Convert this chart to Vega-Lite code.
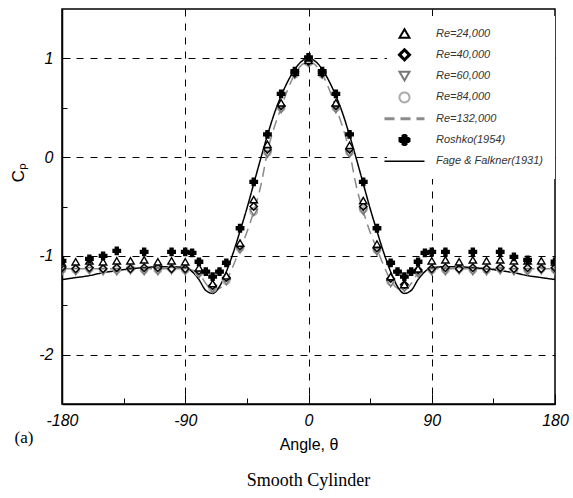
{
  "$schema": "https://vega.github.io/schema/vega-lite/v6.json",
  "autosize": {"type": "none"},
  "width": 493,
  "height": 395,
  "padding": {"left": 62, "top": 9, "right": 18, "bottom": 94},
  "background": "white",
  "config": {
    "view": {"stroke": "#000000", "strokeWidth": 1.5},
    "font": "Liberation Sans",
    "legend": {"padding": 12}
  },
  "title": {
    "text": "Smooth Cylinder",
    "orient": "bottom",
    "anchor": "middle",
    "font": "Liberation Serif",
    "fontSize": 18,
    "fontWeight": "normal",
    "color": "#000000",
    "offset": 20
  },
  "datasets": {
    "pts": [
      {"s":"Re=84,000","t":-180,"cp":-1.14},{"s":"Re=84,000","t":-170,"cp":-1.14},{"s":"Re=84,000","t":-160,"cp":-1.13},{"s":"Re=84,000","t":-150,"cp":-1.14},{"s":"Re=84,000","t":-140,"cp":-1.14},{"s":"Re=84,000","t":-130,"cp":-1.13},{"s":"Re=84,000","t":-120,"cp":-1.14},{"s":"Re=84,000","t":-110,"cp":-1.14},{"s":"Re=84,000","t":-100,"cp":-1.13},{"s":"Re=84,000","t":-90,"cp":-1.14},{"s":"Re=84,000","t":-80,"cp":-1.17},{"s":"Re=84,000","t":-70,"cp":-1.33},{"s":"Re=84,000","t":-60,"cp":-1.25},{"s":"Re=84,000","t":-50,"cp":-0.92},{"s":"Re=84,000","t":-40,"cp":-0.55},{"s":"Re=84,000","t":-30,"cp":0.05},{"s":"Re=84,000","t":-20,"cp":0.5},{"s":"Re=84,000","t":-10,"cp":0.84},{"s":"Re=84,000","t":0,"cp":0.96},{"s":"Re=84,000","t":10,"cp":0.84},{"s":"Re=84,000","t":20,"cp":0.5},{"s":"Re=84,000","t":30,"cp":0.05},{"s":"Re=84,000","t":40,"cp":-0.53},{"s":"Re=84,000","t":50,"cp":-0.94},{"s":"Re=84,000","t":60,"cp":-1.26},{"s":"Re=84,000","t":70,"cp":-1.31},{"s":"Re=84,000","t":80,"cp":-1.16},{"s":"Re=84,000","t":90,"cp":-1.14},{"s":"Re=84,000","t":100,"cp":-1.14},{"s":"Re=84,000","t":110,"cp":-1.13},{"s":"Re=84,000","t":120,"cp":-1.14},{"s":"Re=84,000","t":130,"cp":-1.14},{"s":"Re=84,000","t":140,"cp":-1.13},{"s":"Re=84,000","t":150,"cp":-1.14},{"s":"Re=84,000","t":160,"cp":-1.14},{"s":"Re=84,000","t":170,"cp":-1.13},{"s":"Re=84,000","t":180,"cp":-1.14},
      {"s":"Re=60,000","t":-180,"cp":-1.16},{"s":"Re=60,000","t":-170,"cp":-1.16},{"s":"Re=60,000","t":-160,"cp":-1.15},{"s":"Re=60,000","t":-150,"cp":-1.16},{"s":"Re=60,000","t":-140,"cp":-1.16},{"s":"Re=60,000","t":-130,"cp":-1.15},{"s":"Re=60,000","t":-120,"cp":-1.16},{"s":"Re=60,000","t":-110,"cp":-1.16},{"s":"Re=60,000","t":-100,"cp":-1.15},{"s":"Re=60,000","t":-90,"cp":-1.16},{"s":"Re=60,000","t":-80,"cp":-1.19},{"s":"Re=60,000","t":-70,"cp":-1.34},{"s":"Re=60,000","t":-60,"cp":-1.26},{"s":"Re=60,000","t":-50,"cp":-0.94},{"s":"Re=60,000","t":-40,"cp":-0.56},{"s":"Re=60,000","t":-30,"cp":0.03},{"s":"Re=60,000","t":-20,"cp":0.48},{"s":"Re=60,000","t":-10,"cp":0.83},{"s":"Re=60,000","t":0,"cp":0.95},{"s":"Re=60,000","t":10,"cp":0.83},{"s":"Re=60,000","t":20,"cp":0.48},{"s":"Re=60,000","t":30,"cp":0.03},{"s":"Re=60,000","t":40,"cp":-0.55},{"s":"Re=60,000","t":50,"cp":-0.96},{"s":"Re=60,000","t":60,"cp":-1.28},{"s":"Re=60,000","t":70,"cp":-1.33},{"s":"Re=60,000","t":80,"cp":-1.18},{"s":"Re=60,000","t":90,"cp":-1.16},{"s":"Re=60,000","t":100,"cp":-1.16},{"s":"Re=60,000","t":110,"cp":-1.15},{"s":"Re=60,000","t":120,"cp":-1.16},{"s":"Re=60,000","t":130,"cp":-1.16},{"s":"Re=60,000","t":140,"cp":-1.15},{"s":"Re=60,000","t":150,"cp":-1.16},{"s":"Re=60,000","t":160,"cp":-1.16},{"s":"Re=60,000","t":170,"cp":-1.15},{"s":"Re=60,000","t":180,"cp":-1.16},
      {"s":"Re=40,000","t":-180,"cp":-1.12},{"s":"Re=40,000","t":-170,"cp":-1.13},{"s":"Re=40,000","t":-160,"cp":-1.12},{"s":"Re=40,000","t":-150,"cp":-1.13},{"s":"Re=40,000","t":-140,"cp":-1.12},{"s":"Re=40,000","t":-130,"cp":-1.13},{"s":"Re=40,000","t":-120,"cp":-1.12},{"s":"Re=40,000","t":-110,"cp":-1.12},{"s":"Re=40,000","t":-100,"cp":-1.13},{"s":"Re=40,000","t":-90,"cp":-1.13},{"s":"Re=40,000","t":-80,"cp":-1.15},{"s":"Re=40,000","t":-70,"cp":-1.3},{"s":"Re=40,000","t":-60,"cp":-1.22},{"s":"Re=40,000","t":-50,"cp":-0.9},{"s":"Re=40,000","t":-40,"cp":-0.5},{"s":"Re=40,000","t":-30,"cp":0.08},{"s":"Re=40,000","t":-20,"cp":0.52},{"s":"Re=40,000","t":-10,"cp":0.85},{"s":"Re=40,000","t":0,"cp":0.97},{"s":"Re=40,000","t":10,"cp":0.85},{"s":"Re=40,000","t":20,"cp":0.52},{"s":"Re=40,000","t":30,"cp":0.08},{"s":"Re=40,000","t":40,"cp":-0.5},{"s":"Re=40,000","t":50,"cp":-0.92},{"s":"Re=40,000","t":60,"cp":-1.23},{"s":"Re=40,000","t":70,"cp":-1.29},{"s":"Re=40,000","t":80,"cp":-1.14},{"s":"Re=40,000","t":90,"cp":-1.13},{"s":"Re=40,000","t":100,"cp":-1.12},{"s":"Re=40,000","t":110,"cp":-1.13},{"s":"Re=40,000","t":120,"cp":-1.12},{"s":"Re=40,000","t":130,"cp":-1.13},{"s":"Re=40,000","t":140,"cp":-1.12},{"s":"Re=40,000","t":150,"cp":-1.13},{"s":"Re=40,000","t":160,"cp":-1.12},{"s":"Re=40,000","t":170,"cp":-1.13},{"s":"Re=40,000","t":180,"cp":-1.12},
      {"s":"Re=24,000","t":-180,"cp":-1.07},{"s":"Re=24,000","t":-170,"cp":-1.06},{"s":"Re=24,000","t":-160,"cp":-1.05},{"s":"Re=24,000","t":-150,"cp":-1.06},{"s":"Re=24,000","t":-140,"cp":-1.05},{"s":"Re=24,000","t":-130,"cp":-1.05},{"s":"Re=24,000","t":-120,"cp":-1.04},{"s":"Re=24,000","t":-110,"cp":-1.06},{"s":"Re=24,000","t":-100,"cp":-1.05},{"s":"Re=24,000","t":-90,"cp":-1.06},{"s":"Re=24,000","t":-80,"cp":-1.12},{"s":"Re=24,000","t":-70,"cp":-1.28},{"s":"Re=24,000","t":-60,"cp":-1.2},{"s":"Re=24,000","t":-50,"cp":-0.87},{"s":"Re=24,000","t":-40,"cp":-0.43},{"s":"Re=24,000","t":-30,"cp":0.13},{"s":"Re=24,000","t":-20,"cp":0.55},{"s":"Re=24,000","t":-10,"cp":0.86},{"s":"Re=24,000","t":0,"cp":0.98},{"s":"Re=24,000","t":10,"cp":0.86},{"s":"Re=24,000","t":20,"cp":0.55},{"s":"Re=24,000","t":30,"cp":0.12},{"s":"Re=24,000","t":40,"cp":-0.44},{"s":"Re=24,000","t":50,"cp":-0.88},{"s":"Re=24,000","t":60,"cp":-1.21},{"s":"Re=24,000","t":70,"cp":-1.29},{"s":"Re=24,000","t":80,"cp":-1.13},{"s":"Re=24,000","t":90,"cp":-1.05},{"s":"Re=24,000","t":100,"cp":-1.04},{"s":"Re=24,000","t":110,"cp":-1.06},{"s":"Re=24,000","t":120,"cp":-1.04},{"s":"Re=24,000","t":130,"cp":-1.05},{"s":"Re=24,000","t":140,"cp":-1.04},{"s":"Re=24,000","t":150,"cp":-1.05},{"s":"Re=24,000","t":160,"cp":-1.05},{"s":"Re=24,000","t":170,"cp":-1.05},{"s":"Re=24,000","t":180,"cp":-1.06},
      {"s":"Roshko(1954)","t":-180,"cp":-1.05},{"s":"Roshko(1954)","t":-160,"cp":-1.03},{"s":"Roshko(1954)","t":-150,"cp":-1.0},{"s":"Roshko(1954)","t":-140,"cp":-0.95},{"s":"Roshko(1954)","t":-120,"cp":-0.96},{"s":"Roshko(1954)","t":-100,"cp":-0.96},{"s":"Roshko(1954)","t":-90,"cp":-0.96},{"s":"Roshko(1954)","t":-85,"cp":-0.97},{"s":"Roshko(1954)","t":-80,"cp":-1.06},{"s":"Roshko(1954)","t":-75,"cp":-1.16},{"s":"Roshko(1954)","t":-70,"cp":-1.21},{"s":"Roshko(1954)","t":-65,"cp":-1.16},{"s":"Roshko(1954)","t":-60,"cp":-1.07},{"s":"Roshko(1954)","t":-50,"cp":-0.72},{"s":"Roshko(1954)","t":-40,"cp":-0.25},{"s":"Roshko(1954)","t":-30,"cp":0.23},{"s":"Roshko(1954)","t":-20,"cp":0.64},{"s":"Roshko(1954)","t":-10,"cp":0.87},{"s":"Roshko(1954)","t":0,"cp":1.01},{"s":"Roshko(1954)","t":10,"cp":0.87},{"s":"Roshko(1954)","t":20,"cp":0.64},{"s":"Roshko(1954)","t":30,"cp":0.23},{"s":"Roshko(1954)","t":40,"cp":-0.25},{"s":"Roshko(1954)","t":50,"cp":-0.72},{"s":"Roshko(1954)","t":60,"cp":-1.07},{"s":"Roshko(1954)","t":65,"cp":-1.16},{"s":"Roshko(1954)","t":70,"cp":-1.21},{"s":"Roshko(1954)","t":75,"cp":-1.16},{"s":"Roshko(1954)","t":80,"cp":-1.06},{"s":"Roshko(1954)","t":85,"cp":-0.97},{"s":"Roshko(1954)","t":90,"cp":-0.96},{"s":"Roshko(1954)","t":100,"cp":-0.96},{"s":"Roshko(1954)","t":120,"cp":-0.96},{"s":"Roshko(1954)","t":140,"cp":-0.96},{"s":"Roshko(1954)","t":150,"cp":-1.01},{"s":"Roshko(1954)","t":160,"cp":-1.04},{"s":"Roshko(1954)","t":180,"cp":-1.06}
    ],
    "lines": [
      {"s":"Re=132,000","t":-180,"cp":-1.13},{"s":"Re=132,000","t":-160,"cp":-1.13},{"s":"Re=132,000","t":-140,"cp":-1.13},{"s":"Re=132,000","t":-120,"cp":-1.13},{"s":"Re=132,000","t":-100,"cp":-1.13},{"s":"Re=132,000","t":-90,"cp":-1.13},{"s":"Re=132,000","t":-80,"cp":-1.18},{"s":"Re=132,000","t":-75,"cp":-1.28},{"s":"Re=132,000","t":-70,"cp":-1.35},{"s":"Re=132,000","t":-65,"cp":-1.33},{"s":"Re=132,000","t":-60,"cp":-1.25},{"s":"Re=132,000","t":-55,"cp":-1.1},{"s":"Re=132,000","t":-50,"cp":-0.93},{"s":"Re=132,000","t":-45,"cp":-0.76},{"s":"Re=132,000","t":-40,"cp":-0.55},{"s":"Re=132,000","t":-35,"cp":-0.3},{"s":"Re=132,000","t":-30,"cp":0.05},{"s":"Re=132,000","t":-20,"cp":0.5},{"s":"Re=132,000","t":-10,"cp":0.84},{"s":"Re=132,000","t":0,"cp":0.97},{"s":"Re=132,000","t":10,"cp":0.84},{"s":"Re=132,000","t":20,"cp":0.5},{"s":"Re=132,000","t":30,"cp":0.05},{"s":"Re=132,000","t":35,"cp":-0.3},{"s":"Re=132,000","t":40,"cp":-0.55},{"s":"Re=132,000","t":45,"cp":-0.76},{"s":"Re=132,000","t":50,"cp":-0.93},{"s":"Re=132,000","t":55,"cp":-1.1},{"s":"Re=132,000","t":60,"cp":-1.25},{"s":"Re=132,000","t":65,"cp":-1.33},{"s":"Re=132,000","t":70,"cp":-1.35},{"s":"Re=132,000","t":75,"cp":-1.28},{"s":"Re=132,000","t":80,"cp":-1.18},{"s":"Re=132,000","t":90,"cp":-1.13},{"s":"Re=132,000","t":100,"cp":-1.13},{"s":"Re=132,000","t":120,"cp":-1.13},{"s":"Re=132,000","t":140,"cp":-1.13},{"s":"Re=132,000","t":160,"cp":-1.13},{"s":"Re=132,000","t":180,"cp":-1.13},
      {"s":"Fage & Falkner(1931)","t":-180,"cp":-1.24},{"s":"Fage & Falkner(1931)","t":-170,"cp":-1.22},{"s":"Fage & Falkner(1931)","t":-160,"cp":-1.2},{"s":"Fage & Falkner(1931)","t":-150,"cp":-1.17},{"s":"Fage & Falkner(1931)","t":-140,"cp":-1.15},{"s":"Fage & Falkner(1931)","t":-130,"cp":-1.13},{"s":"Fage & Falkner(1931)","t":-120,"cp":-1.12},{"s":"Fage & Falkner(1931)","t":-110,"cp":-1.11},{"s":"Fage & Falkner(1931)","t":-100,"cp":-1.11},{"s":"Fage & Falkner(1931)","t":-90,"cp":-1.12},{"s":"Fage & Falkner(1931)","t":-85,"cp":-1.16},{"s":"Fage & Falkner(1931)","t":-80,"cp":-1.24},{"s":"Fage & Falkner(1931)","t":-75,"cp":-1.35},{"s":"Fage & Falkner(1931)","t":-70,"cp":-1.38},{"s":"Fage & Falkner(1931)","t":-65,"cp":-1.31},{"s":"Fage & Falkner(1931)","t":-60,"cp":-1.16},{"s":"Fage & Falkner(1931)","t":-55,"cp":-0.97},{"s":"Fage & Falkner(1931)","t":-50,"cp":-0.75},{"s":"Fage & Falkner(1931)","t":-45,"cp":-0.52},{"s":"Fage & Falkner(1931)","t":-40,"cp":-0.27},{"s":"Fage & Falkner(1931)","t":-35,"cp":-0.02},{"s":"Fage & Falkner(1931)","t":-30,"cp":0.22},{"s":"Fage & Falkner(1931)","t":-25,"cp":0.44},{"s":"Fage & Falkner(1931)","t":-20,"cp":0.62},{"s":"Fage & Falkner(1931)","t":-15,"cp":0.77},{"s":"Fage & Falkner(1931)","t":-10,"cp":0.89},{"s":"Fage & Falkner(1931)","t":-5,"cp":0.97},{"s":"Fage & Falkner(1931)","t":0,"cp":1.0},{"s":"Fage & Falkner(1931)","t":5,"cp":0.97},{"s":"Fage & Falkner(1931)","t":10,"cp":0.89},{"s":"Fage & Falkner(1931)","t":15,"cp":0.77},{"s":"Fage & Falkner(1931)","t":20,"cp":0.62},{"s":"Fage & Falkner(1931)","t":25,"cp":0.44},{"s":"Fage & Falkner(1931)","t":30,"cp":0.22},{"s":"Fage & Falkner(1931)","t":35,"cp":-0.02},{"s":"Fage & Falkner(1931)","t":40,"cp":-0.27},{"s":"Fage & Falkner(1931)","t":45,"cp":-0.52},{"s":"Fage & Falkner(1931)","t":50,"cp":-0.75},{"s":"Fage & Falkner(1931)","t":55,"cp":-0.97},{"s":"Fage & Falkner(1931)","t":60,"cp":-1.16},{"s":"Fage & Falkner(1931)","t":65,"cp":-1.31},{"s":"Fage & Falkner(1931)","t":70,"cp":-1.38},{"s":"Fage & Falkner(1931)","t":75,"cp":-1.35},{"s":"Fage & Falkner(1931)","t":80,"cp":-1.24},{"s":"Fage & Falkner(1931)","t":85,"cp":-1.16},{"s":"Fage & Falkner(1931)","t":90,"cp":-1.12},{"s":"Fage & Falkner(1931)","t":100,"cp":-1.11},{"s":"Fage & Falkner(1931)","t":110,"cp":-1.11},{"s":"Fage & Falkner(1931)","t":120,"cp":-1.12},{"s":"Fage & Falkner(1931)","t":130,"cp":-1.13},{"s":"Fage & Falkner(1931)","t":140,"cp":-1.15},{"s":"Fage & Falkner(1931)","t":150,"cp":-1.17},{"s":"Fage & Falkner(1931)","t":160,"cp":-1.2},{"s":"Fage & Falkner(1931)","t":170,"cp":-1.22},{"s":"Fage & Falkner(1931)","t":180,"cp":-1.24}
    ],
    "note": [{"label": "(a)"}]
  },
  "layer": [
    {
      "data": {"name": "lines"},
      "mark": {"type": "line", "interpolate": "monotone", "clip": true},
      "encoding": {
        "x": {
          "field": "t", "type": "quantitative",
          "scale": {"domain": [-180, 180], "nice": false, "zero": false},
          "axis": {
            "title": "Angle, θ",
            "values": [-180, -135, -90, -45, 0, 45, 90, 135, 180],
            "labelExpr": "datum.value % 90 === 0 ? '' + datum.value : ''",
            "labelFont": "Liberation Sans", "labelFontSize": 16, "labelFontStyle": "italic", "labelColor": "#000000",
            "labelPadding": 18,
            "labelFlush": false,
            "tickColor": "#000000", "tickWidth": 1,
            "tickSize": {"condition": {"test": "datum.value % 90 === 0", "value": -10}, "value": -6},
            "domainColor": "#000000", "domainWidth": 1.5,
            "grid": true, "gridColor": "#000000", "gridWidth": 1, "gridDash": [7, 7],
            "gridOpacity": {"condition": {"test": "datum.value % 90 === 0 && abs(datum.value) < 180", "value": 1}, "value": 0},
            "titleFont": "Liberation Sans", "titleFontSize": 16, "titleFontWeight": "normal", "titleColor": "#000000",
            "titlePadding": 8
          }
        },
        "y": {
          "field": "cp", "type": "quantitative",
          "scale": {"domain": [-2.5, 1.5], "nice": false, "zero": false},
          "axis": {
            "title": "Cₚ",
            "values": [-2, -1.5, -1, -0.5, 0, 0.5, 1],
            "labelExpr": "datum.value % 1 === 0 ? '' + datum.value : ''",
            "labelFont": "Liberation Sans", "labelFontSize": 16, "labelFontStyle": "italic", "labelColor": "#000000",
            "labelPadding": 17,
            "tickColor": "#000000", "tickWidth": 1,
            "tickSize": {"condition": {"test": "datum.value % 1 === 0", "value": -8}, "value": -5},
            "domainColor": "#000000", "domainWidth": 1.5,
            "grid": true, "gridColor": "#000000", "gridWidth": 1, "gridDash": [7, 7],
            "gridOpacity": {"condition": {"test": "datum.value % 1 === 0", "value": 1}, "value": 0},
            "titleFont": "Liberation Sans", "titleFontSize": 17, "titleFontWeight": "normal", "titleColor": "#000000",
            "titleX": -35, "titleY": 163
          }
        },
        "stroke": {
          "field": "s", "type": "nominal",
          "scale": {
            "domain": ["Re=24,000", "Re=40,000", "Re=60,000", "Re=84,000", "Re=132,000", "Roshko(1954)", "Fage & Falkner(1931)"],
            "range": ["#000000", "#000000", "#777777", "#aaaaaa", "#8a8a8a", "#000000", "#000000"]
          },
          "legend": {
            "title": null, "orient": "none", "legendX": 325, "legendY": 7,
            "symbolSize": 100, "labelFont": "Liberation Sans", "labelFontSize": 11, "labelFontStyle": "italic", "labelColor": "#333333",
            "labelOffset": 26, "rowPadding": -1.7, "padding": 12, "gridAlign": "all",
            "fillColor": "#ffffff",
            "encode": {"symbols": {"update": {"strokeWidth": {"signal": "datum.value === 'Re=40,000' || datum.value === 'Re=132,000' ? 3 : datum.value === 'Fage & Falkner(1931)' ? 1.5 : 2"}}}}
          }
        },
        "strokeDash": {
          "field": "s", "type": "nominal",
          "scale": {
            "domain": ["Re=24,000", "Re=40,000", "Re=60,000", "Re=84,000", "Re=132,000", "Roshko(1954)", "Fage & Falkner(1931)"],
            "range": [[1, 0], [1, 0], [1, 0], [1, 0], [10, 6], [1, 0], [1, 0]]
          },
          "legend": {
            "title": null, "orient": "none", "legendX": 325, "legendY": 7
          }
        },
        "strokeWidth": {"value": 1.5}
      }
    },
    {
      "data": {"name": "pts"},
      "mark": {"type": "point", "size": 55, "strokeWidth": 1.4, "opacity": 1, "clip": true},
      "encoding": {
        "x": {"field": "t", "type": "quantitative"},
        "y": {"field": "cp", "type": "quantitative"},
        "stroke": {"field": "s", "type": "nominal"},
        "fill": {
          "field": "s", "type": "nominal",
          "scale": {
            "domain": ["Re=24,000", "Re=40,000", "Re=60,000", "Re=84,000", "Re=132,000", "Roshko(1954)", "Fage & Falkner(1931)"],
            "range": ["#ffffff", "transparent", "transparent", "transparent", "transparent", "#000000", "transparent"]
          },
          "legend": {"title": null, "orient": "none", "legendX": 325, "legendY": 7}
        },
        "shape": {
          "field": "s", "type": "nominal",
          "scale": {
            "domain": ["Re=24,000", "Re=40,000", "Re=60,000", "Re=84,000", "Re=132,000", "Roshko(1954)", "Fage & Falkner(1931)"],
            "range": ["triangle-up", "diamond", "triangle-down", "circle", "M-4,0H4", "cross", "M-4,0H4"]
          },
          "legend": {"title": null, "orient": "none", "legendX": 325, "legendY": 7}
        }
      }
    },
    {
      "data": {"name": "note"},
      "mark": {"type": "text", "font": "Liberation Serif", "fontSize": 17, "color": "#000000", "align": "center", "baseline": "middle", "dx": -38, "dy": 34, "clip": false},
      "encoding": {
        "x": {"datum": -180, "type": "quantitative"},
        "y": {"datum": -2.5, "type": "quantitative"},
        "text": {"field": "label"}
      }
    }
  ]
}
